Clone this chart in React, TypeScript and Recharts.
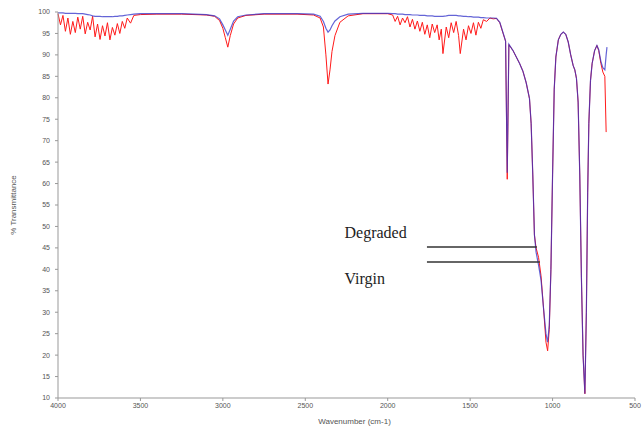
import { LineChart, Line, XAxis, YAxis, ReferenceLine, ReferenceDot } from 'recharts';

// wavenumber grid (cm-1)
const wavenumbers = [
  4000, 3985, 3970, 3955, 3940, 3925, 3910, 3895, 3880, 3865, 3850, 3835, 3820, 3805, 3790, 3775,
  3760, 3745, 3730, 3715, 3700, 3685, 3670, 3655, 3640, 3625, 3610, 3595, 3580, 3560, 3540, 3500,
  3400, 3250, 3100, 3050, 3020, 3000, 2985, 2970, 2955, 2935, 2910, 2860, 2750, 2550, 2450, 2410,
  2390, 2375, 2362, 2350, 2338, 2320, 2290, 2240, 2150, 2000, 1970, 1955, 1940, 1925, 1910, 1895,
  1880, 1865, 1850, 1835, 1820, 1805, 1790, 1775, 1760, 1745, 1730, 1715, 1700, 1688, 1675, 1665,
  1645, 1630, 1615, 1600, 1585, 1570, 1560, 1540, 1525, 1510, 1495, 1480, 1465, 1450, 1435, 1420,
  1400, 1380, 1360, 1340, 1320, 1300, 1285, 1275, 1265, 1240, 1220, 1200, 1180, 1160, 1140, 1130,
  1120, 1110, 1100, 1085, 1070, 1055, 1040, 1030, 1020, 1010, 1000, 990, 980, 965, 950, 935,
  920, 905, 890, 875, 865, 855, 845, 835, 825, 815, 804, 795, 787, 780, 770, 760,
  745, 731, 720, 707, 695, 683, 675, 670,
];

const degraded = [
  99.6, 97.0, 99.2, 95.5, 98.6, 94.8, 97.8, 95.2, 98.8, 96.0, 99.0, 94.9, 97.6, 95.8, 99.0, 94.2,
  97.2, 93.6, 96.8, 94.4, 97.5, 93.5, 96.4, 94.6, 97.3, 95.0, 97.8, 96.2, 98.6, 97.4, 99.2, 99.4,
  99.5, 99.5, 99.3, 99.0, 98.0, 96.2, 94.0, 91.8, 94.5, 97.2, 98.6, 99.2, 99.5, 99.5, 99.3, 98.6,
  96.5, 90.0, 83.2, 86.5, 90.8, 94.5, 97.6, 99.1, 99.6, 99.6, 99.3, 97.8, 99.0, 97.0, 98.6, 97.5,
  98.9, 96.5, 98.3, 96.0, 97.9, 95.5, 97.6, 94.8, 97.0, 94.0, 97.2, 95.2, 97.0, 93.5, 96.0, 90.3,
  96.5, 94.0, 97.5, 95.2, 97.8, 94.5, 90.3, 96.0, 93.5, 96.8, 95.0, 97.5, 94.6, 97.6, 96.2, 98.2,
  97.8, 98.6, 98.4, 98.5, 97.5, 95.0, 93.2, 61.0, 92.4, 91.0, 89.5, 88.0, 86.2, 83.5, 79.8, 74.0,
  62.0, 48.0, 45.0, 42.8, 38.5, 31.0, 23.0, 21.0, 26.0, 40.0, 62.0, 82.0, 89.5, 93.5, 94.8, 95.3,
  94.8, 93.0, 90.0, 87.5, 86.5, 84.5, 79.0, 62.0, 38.0, 20.0, 11.0, 30.0, 58.0, 74.0, 84.0, 88.0,
  91.0, 92.2, 91.0, 88.0, 86.0, 85.0, 72.0, null,
];

const virgin = [
  99.8, 99.8, 99.8, 99.7, 99.7, 99.7, 99.7, 99.7, 99.6, 99.6, 99.6, 99.5, 99.4, 99.3, 99.1, 99.0,
  99.0, 99.0, 98.9, 98.9, 98.9, 98.9, 98.9, 99.0, 99.0, 99.1, 99.1, 99.2, 99.3, 99.4, 99.5, 99.6,
  99.6, 99.6, 99.4, 99.1, 98.4, 97.0, 95.8, 94.6, 96.0, 97.9, 98.9, 99.3, 99.6, 99.6, 99.5, 99.0,
  97.8, 96.2, 95.3, 95.8, 96.8, 97.9, 98.9, 99.5, 99.7, 99.7, 99.6, 99.6, 99.5, 99.5, 99.5, 99.4,
  99.4, 99.4, 99.3, 99.3, 99.3, 99.2, 99.2, 99.2, 99.1, 99.1, 99.1, 99.0, 99.0, 99.0, 99.0, 99.0,
  99.1, 99.2, 99.2, 99.2, 99.2, 99.1, 99.1, 99.0, 99.0, 98.9, 98.9, 98.8, 98.8, 98.8, 98.7, 98.7,
  98.6, 98.6, 98.6, 98.5, 97.6, 95.1, 93.2, 62.5, 92.5, 91.0, 89.5, 88.0, 86.2, 83.5, 79.8, 74.0,
  62.0, 48.0, 44.0, 41.0, 37.5, 31.0, 25.0, 23.0, 27.0, 40.0, 62.0, 82.0, 89.5, 93.5, 94.8, 95.3,
  94.8, 93.0, 90.0, 87.5, 86.5, 84.5, 79.0, 62.0, 38.0, 20.0, 11.0, 30.0, 58.0, 74.0, 84.0, 88.0,
  91.0, 92.2, 91.2, 88.5, 87.0, 86.5, 90.0, 91.8,
];

const xTicks = [4000, 3500, 3000, 2500, 2000, 1500, 1000, 500];
const yTicks = [10, 15, 20, 25, 30, 35, 40, 45, 50, 55, 60, 65, 70, 75, 80, 85, 90, 95, 100];

// callout labels: text anchor and pointer line, in data units
const callouts = [
  { name: 'Degraded', textAt: 2262, textLevel: 47.3, lineFrom: 1762, lineTo: 1095, lineLevel: 45.2 },
  { name: 'Virgin', textAt: 2262, textLevel: 36.6, lineFrom: 1762, lineTo: 1077, lineLevel: 41.7 },
];

const data = wavenumbers.map((w, i) => ({ w, degraded: degraded[i], virgin: virgin[i] }));

const tickStyle = { fontSize: 7, fill: '#555', fontFamily: 'Liberation Sans, Arial, sans-serif' };

export default function App() {
  return (
    <div style={{ position: 'absolute', left: 0, top: 0, background: '#fff' }}>
      <LineChart width={644} height={428} data={data} margin={{ top: 12, right: 9, left: 8, bottom: 0 }}>
        <XAxis
          dataKey="w"
          type="number"
          domain={[500, 4000]}
          reversed
          ticks={xTicks}
          interval={0}
          height={30}
          tick={tickStyle}
          tickSize={3}
          tickMargin={2}
          axisLine={{ stroke: '#999' }}
          tickLine={{ stroke: '#999' }}
          label={{
            content: ({ viewBox }: any) => (
              <text
                x={viewBox.x + viewBox.width / 2 + 8}
                y={424}
                textAnchor="middle"
                fontSize={8}
                fill="#555"
                fontFamily="Liberation Sans, Arial, sans-serif"
              >
                Wavenumber (cm-1)
              </text>
            ),
          }}
        />
        <YAxis
          type="number"
          domain={[10, 100]}
          ticks={yTicks}
          interval={0}
          width={50}
          tick={tickStyle}
          tickSize={3}
          tickMargin={5}
          axisLine={{ stroke: '#999' }}
          tickLine={{ stroke: '#999' }}
          label={{
            content: ({ viewBox }: any) => {
              const cx = 16;
              const cy = viewBox.y + viewBox.height / 2;
              return (
                <text
                  x={cx}
                  y={cy}
                  transform={`rotate(-90 ${cx} ${cy})`}
                  textAnchor="middle"
                  fontSize={8}
                  fill="#555"
                  fontFamily="Liberation Sans, Arial, sans-serif"
                >
                  % Transmittance
                </text>
              );
            },
          }}
        />
        <Line
          dataKey="degraded"
          stroke="#ff1a1a"
          strokeWidth={1}
          dot={false}
          isAnimationActive={false}
          type="linear"
        />
        <Line
          dataKey="virgin"
          stroke="#3030c8"
          strokeOpacity={0.75}
          strokeWidth={1.2}
          dot={false}
          isAnimationActive={false}
          type="linear"
        />
        {callouts.map((c) => (
          <ReferenceLine
            key={c.name + '-line'}
            segment={[
              { x: c.lineFrom, y: c.lineLevel },
              { x: c.lineTo, y: c.lineLevel },
            ]}
            stroke="#333"
            strokeWidth={1.5}
          />
        ))}
        {callouts.map((c) => (
          <ReferenceDot
            key={c.name + '-text'}
            x={c.textAt}
            y={c.textLevel}
            r={1}
            shape={(p: any) => (
              <text
                x={p.cx}
                y={p.cy}
                fontSize={16}
                fill="#222"
                fontFamily="Liberation Serif, Times New Roman, serif"
              >
                {c.name}
              </text>
            )}
          />
        ))}
      </LineChart>
    </div>
  );
}
